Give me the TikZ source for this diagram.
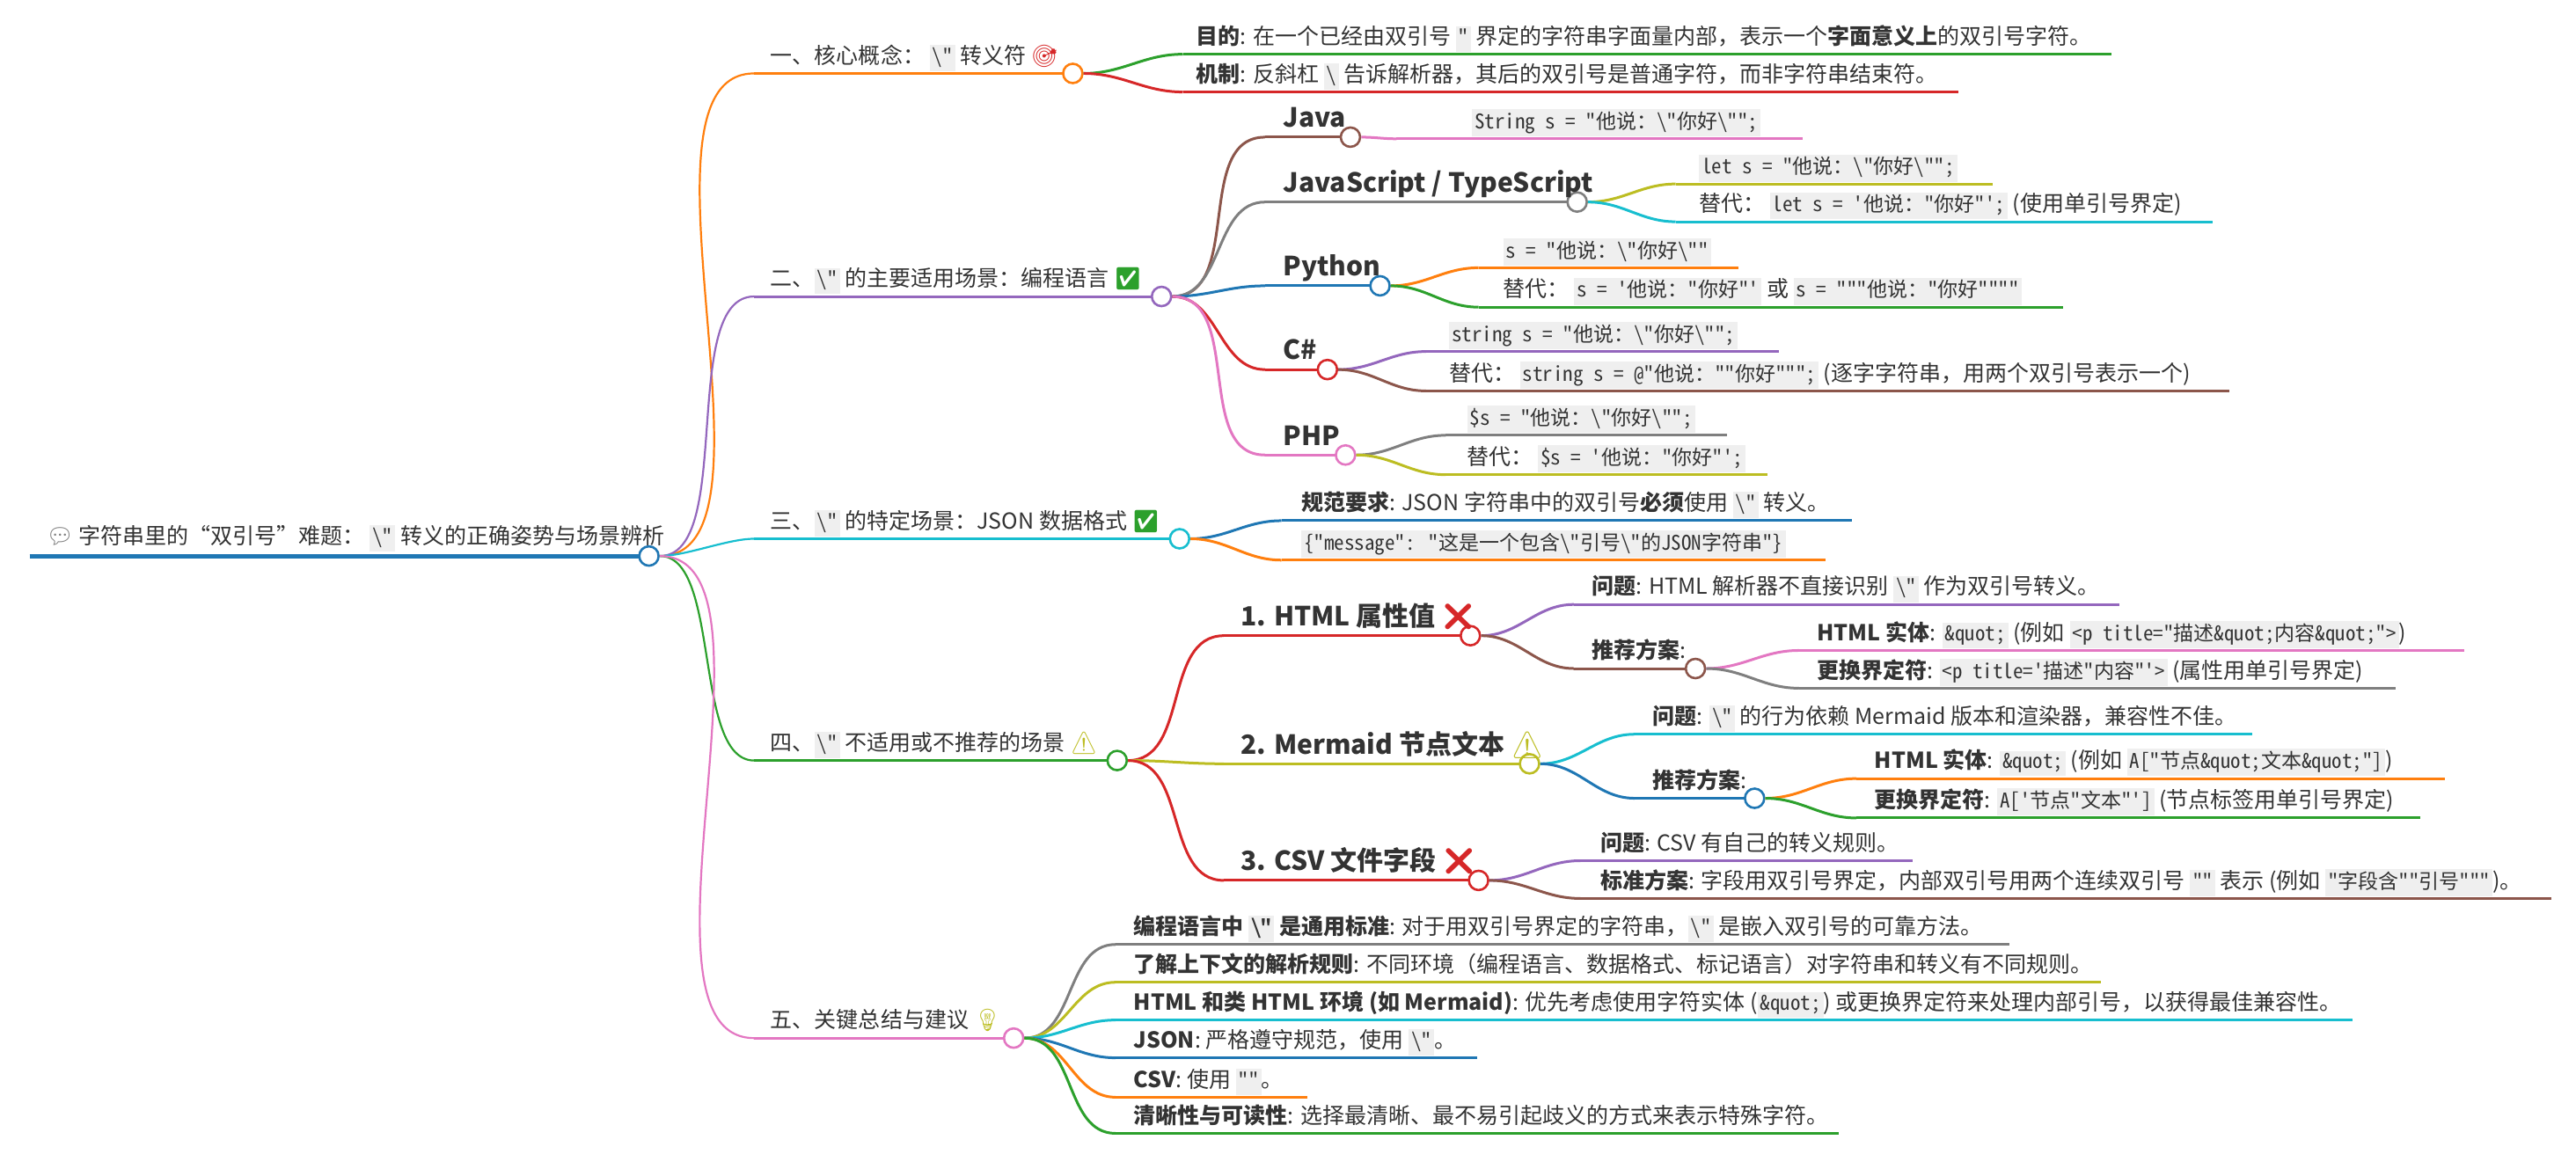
\documentclass[tikz,border=0pt]{standalone}
\usepackage{fontspec}
\setmainfont{Noto Sans CJK SC}
\newfontfamily\codefont{Noto Sans Mono CJK SC}
\newfontfamily\emo{Noto Emoji}
\definecolor{cOr}{HTML}{FF7F0E}
\definecolor{cPu}{HTML}{9467BD}
\definecolor{cCy}{HTML}{17BECF}
\definecolor{cGr}{HTML}{2CA02C}
\definecolor{cPi}{HTML}{E377C2}
\definecolor{cRe}{HTML}{D62728}
\definecolor{cBr}{HTML}{8C564B}
\definecolor{cGy}{HTML}{7F7F7F}
\definecolor{cOl}{HTML}{BCBD22}
\definecolor{cBl}{HTML}{1F77B4}
\definecolor{codebg}{HTML}{EFEFEF}
\definecolor{txt}{HTML}{333333}
\newcommand\dq{\textquotedbl}
\newcommand\sq{\textquotesingle}
\newcommand\bq{\textbackslash\textquotedbl}
\newcommand\cd[1]{{\setlength\fboxsep{3pt}\colorbox{codebg}{\codefont\fontsize{23}{26}\selectfont\vphantom{Ag}#1}}}
\newcommand\Leaf[7]{\coordinate (#1) at (#3,#4); \draw[ul,#2] (#1) -- (#5,#4); \node[lbl] (#1t) at (#6,#4-6) {#7};}
\newcommand\Inner[8]{\coordinate (#1) at (#3,#4); \draw[ul,#2] (#1) -- (#5-6,#4); \node[dot,draw=#2] (#1c) at (#5,#4) {}; \node[#8] (#1t) at (#6,#4-6) {#7};}
\newcommand\Ed[3]{\draw[ul,#3] (#1c.east) to[out=0,in=180] (#2);}
\begin{document}
\begin{tikzpicture}[x=1.8673pt,y=-1.8673pt,
  ul/.style={line width=3pt},
  dot/.style={circle,fill=white,minimum size=22pt,inner sep=0pt,line width=2.6pt},
  lbl/.style={anchor=base west,inner sep=0pt,text=txt,font=\fontsize{25}{28}\selectfont},
  hd/.style={anchor=base west,inner sep=0pt,text=txt,font=\fontsize{30}{34}\selectfont\bfseries}]
\useasboundingbox (0,0) rectangle (1568,711.2);
% root
\coordinate (r) at (18,338.5);
\draw[cBl,line width=5pt] (r) -- (389,338.5);
\node[dot,draw=cBl] (rc) at (395,338.5) {};
\node[lbl] (rt) at (28,331) {{\emo\color{cGy}💬} 字符串里的“双引号”难题： \cd{\bq} 转义的正确姿势与场景辨析};
% level 1
\Inner{a}{cOr}{459}{44.7}{653}{469}{一、核心概念： \cd{\bq} 转义符 {\emo\color{cRe}🎯}}{lbl}
\Inner{b}{cPu}{459}{180.5}{707}{469}{二、\cd{\bq} 的主要适用场景：编程语言 {\emo\color{cGr}✅}}{lbl}
\Inner{c}{cCy}{459}{328}{718}{469}{三、\cd{\bq} 的特定场景：JSON 数据格式 {\emo\color{cGr}✅}}{lbl}
\Inner{d}{cGr}{459}{463}{680}{469}{四、\cd{\bq} 不适用或不推荐的场景 {\emo\color{cOl}⚠}}{lbl}
\Inner{e}{cPi}{459}{632}{617}{469}{五、关键总结与建议 {\emo\color{cOl}💡}}{lbl}
\foreach \n/\k in {a/cOr,b/cPu,c/cCy,d/cGr,e/cPi} {\draw[ul,\k,line width=2.2pt] (rc.east) to[out=0,in=180,looseness=0.7] (\n);}
% under a
\Leaf{a1}{cGr}{720}{33}{1285}{728}{\textbf{目的}: 在一个已经由双引号 \cd{\dq} 界定的字符串字面量内部，表示一个\textbf{字面意义上}的双引号字符。}
\Leaf{a2}{cRe}{720}{56}{1192}{728}{\textbf{机制}: 反斜杠 \cd{\textbackslash} 告诉解析器，其后的双引号是普通字符，而非字符串结束符。}
\Ed{a}{a1}{cGr}\Ed{a}{a2}{cRe}
% under b
\Inner{b1}{cBr}{770}{83.5}{822}{781}{Java}{hd}
\Inner{b2}{cGy}{770}{123}{960}{781}{JavaScript / TypeScript}{hd}
\Inner{b3}{cBl}{770}{174}{840}{781}{Python}{hd}
\Inner{b4}{cRe}{770}{225}{808}{781}{C\#}{hd}
\Inner{b5}{cPi}{770}{277}{819}{781}{PHP}{hd}
\Ed{b}{b1}{cBr}\Ed{b}{b2}{cGy}\Ed{b}{b3}{cBl}\Ed{b}{b4}{cRe}\Ed{b}{b5}{cPi}
\Leaf{b11}{cPi}{850}{84.5}{1097}{896}{\cd{String s = \dq 他说：\bq 你好\bq\dq;}}
\Ed{b1}{b11}{cPi}
\Leaf{b21}{cOl}{1020}{112}{1213}{1034}{\cd{let s = \dq 他说：\bq 你好\bq\dq;}}
\Leaf{b22}{cCy}{1020}{135}{1347}{1034}{替代： \cd{let s = \sq 他说：\dq 你好\dq\sq;} (使用单引号界定)}
\Ed{b2}{b21}{cOl}\Ed{b2}{b22}{cCy}
\Leaf{b31}{cOr}{900}{163}{1058}{915}{\cd{s = \dq 他说：\bq 你好\bq\dq}}
\Leaf{b32}{cGr}{900}{187}{1256}{915}{替代： \cd{s = \sq 他说：\dq 你好\dq\sq} 或 \cd{s = \dq\dq\dq 他说：\dq 你好\dq\dq\dq\dq}}
\Ed{b3}{b31}{cOr}\Ed{b3}{b32}{cGr}
\Leaf{b41}{cPu}{868}{214}{1083}{882}{\cd{string s = \dq 他说：\bq 你好\bq\dq;}}
\Leaf{b42}{cBr}{868}{238}{1357}{882}{替代： \cd{string s = @\dq 他说：\dq\dq 你好\dq\dq\dq;} (逐字字符串，用两个双引号表示一个)}
\Ed{b4}{b41}{cPu}\Ed{b4}{b42}{cBr}
\Leaf{b51}{cGy}{880}{265}{1051}{893}{\cd{\$s = \dq 他说：\bq 你好\bq\dq;}}
\Leaf{b52}{cOl}{880}{289}{1076}{893}{替代： \cd{\$s = \sq 他说：\dq 你好\dq\sq;}}
\Ed{b5}{b51}{cGy}\Ed{b5}{b52}{cOl}
% under c
\Leaf{c1}{cBl}{780}{317}{1127}{792}{\textbf{规范要求}: JSON 字符串中的双引号\textbf{必须}使用 \cd{\bq} 转义。}
\Leaf{c2}{cOr}{780}{341}{1111}{792}{\cd{\{\dq message\dq: \dq 这是一个包含\bq 引号\bq 的JSON字符串\dq\}}}
\Ed{c}{c1}{cBl}\Ed{c}{c2}{cOr}
% under d
\Inner{d1}{cRe}{745}{387}{895}{755}{1. HTML 属性值 {\emo\color{cRe}❌}}{hd}
\Inner{d2}{cOl}{745}{465}{931}{755}{2. Mermaid 节点文本 {\emo\color{cOl}⚠}}{hd}
\Inner{d3}{cRe}{745}{536}{900}{755}{3. CSV 文件字段 {\emo\color{cRe}❌}}{hd}
\Ed{d}{d1}{cRe}\Ed{d}{d2}{cOl}\Ed{d}{d3}{cRe}
\Leaf{d11}{cPu}{958}{368}{1290}{969}{\textbf{问题}: HTML 解析器不直接识别 \cd{\bq} 作为双引号转义。}
\Inner{d12}{cBr}{958}{407}{1032}{969}{\textbf{推荐方案}:}{lbl}
\Ed{d1}{d11}{cPu}\Ed{d1}{d12}{cBr}
\Leaf{d121}{cPi}{1095}{396}{1500}{1106}{\textbf{HTML 实体}: \cd{\&quot;} (例如 \cd{<p title=\dq 描述\&quot;内容\&quot;\dq>})}
\Leaf{d122}{cGy}{1095}{419}{1458}{1106}{\textbf{更换界定符}: \cd{<p title=\sq 描述\dq 内容\dq\sq>} (属性用单引号界定)}
\Ed{d12}{d121}{cPi}\Ed{d12}{d122}{cGy}
\Leaf{d21}{cCy}{995}{447}{1371}{1006}{\textbf{问题}: \cd{\bq} 的行为依赖 Mermaid 版本和渲染器，兼容性不佳。}
\Inner{d22}{cBl}{995}{486}{1068}{1006}{\textbf{推荐方案}:}{lbl}
\Ed{d2}{d21}{cCy}\Ed{d2}{d22}{cBl}
\Leaf{d221}{cOr}{1130}{474}{1488}{1141}{\textbf{HTML 实体}: \cd{\&quot;} (例如 \cd{A[\dq 节点\&quot;文本\&quot;\dq]})}
\Leaf{d222}{cGr}{1130}{498}{1473}{1141}{\textbf{更换界定符}: \cd{A[\sq 节点\dq 文本\dq\sq]} (节点标签用单引号界定)}
\Ed{d22}{d221}{cOr}\Ed{d22}{d222}{cGr}
\Leaf{d31}{cPu}{962}{524}{1164}{974}{\textbf{问题}: CSV 有自己的转义规则。}
\Leaf{d32}{cBr}{962}{547}{1553}{974}{\textbf{标准方案}: 字段用双引号界定，内部双引号用两个连续双引号 \cd{\dq\dq} 表示 (例如 \cd{\dq 字段含\dq\dq 引号\dq\dq\dq})。}
\Ed{d3}{d31}{cPu}\Ed{d3}{d32}{cBr}
% under e
\Leaf{e1}{cGy}{679}{575}{1223}{690}{\textbf{编程语言中 \cd{\bq} 是通用标准}: 对于用双引号界定的字符串，\cd{\bq} 是嵌入双引号的可靠方法。}
\Leaf{e2}{cOl}{679}{598}{1279}{690}{\textbf{了解上下文的解析规则}: 不同环境（编程语言、数据格式、标记语言）对字符串和转义有不同规则。}
\Leaf{e3}{cCy}{679}{621}{1432}{690}{\textbf{HTML 和类 HTML 环境 (如 Mermaid)}: 优先考虑使用字符实体 (\cd{\&quot;}) 或更换界定符来处理内部引号，以获得最佳兼容性。}
\Leaf{e4}{cBl}{679}{644}{899}{690}{\textbf{JSON}: 严格遵守规范，使用 \cd{\bq}。}
\Leaf{e5}{cOr}{679}{668}{796}{690}{\textbf{CSV}: 使用 \cd{\dq\dq}。}
\Leaf{e6}{cGr}{679}{690}{1119}{690}{\textbf{清晰性与可读性}: 选择最清晰、最不易引起歧义的方式来表示特殊字符。}
\Ed{e}{e1}{cGy}\Ed{e}{e2}{cOl}\Ed{e}{e3}{cCy}\Ed{e}{e4}{cBl}\Ed{e}{e5}{cOr}\Ed{e}{e6}{cGr}
\end{tikzpicture}
\end{document}
